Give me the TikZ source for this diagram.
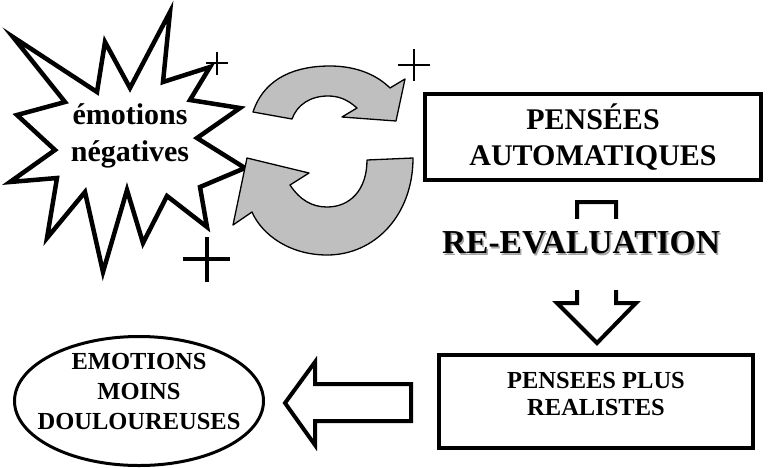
\documentclass[tikz,border=0pt]{standalone}
\usepackage{fontspec}
\setmainfont{Liberation Serif}
\usetikzlibrary{shapes.geometric}

\begin{document}
\begin{tikzpicture}[x=1pt,y=-1pt,
	box/.style={draw,line width=4pt,inner sep=0pt},
	bigtxt/.style={font=\bfseries\fontsize{30}{36}\selectfont,align=center},
	smalltxt/.style={font=\bfseries\fontsize{24.5}{30}\selectfont,align=center},
	revtxt/.style={font=\bfseries\fontsize{33.5}{36}\selectfont,anchor=base,inner sep=0pt},
	cyclearrow/.style={fill=gray!50,draw=black,line width=1.3pt,line join=round},
	hollowarrow/.style={draw=black,fill=white,line width=4pt,line join=miter},
	plussign/.style={draw=black,line cap=butt}]
				\useasboundingbox (0,0) rectangle (769,467);
				% star of negative emotions
				\draw[line width=4.5pt,fill=white,line join=miter,miter limit=20]
					(13,37) -- (97,92) -- (105,42) -- (130,88) -- (170,12) -- (163,82)
					-- (210,67) -- (190,100) -- (240,108) -- (197,138) -- (245,168)
					-- (200,187) -- (207,227) -- (167,196) -- (143,243) -- (127,190)
					-- (103,272) -- (85,192) -- (47,238) -- (57,178) -- (10,182)
					-- (55,150) -- (17,115) -- (65,102) -- cycle;
				\node[bigtxt,font=\bfseries\fontsize{30}{37}\selectfont] (emo) at (130,136) {émotions\\négatives};
				% plus signs
				\draw[plussign,line width=2pt] (206,63) -- (228,63) (217,52) -- (217,75);
				\draw[plussign,line width=2.5pt] (398,65) -- (430,65) (414,49) -- (414,81);
				\draw[plussign,line width=4pt] (183,259) -- (230,259) (207,237) -- (207,282);
				% turning arrows
				\draw[cyclearrow] (253,112) .. controls (265,76) and (298,66) .. (330,66)
					.. controls (358,66) and (378,76) .. (390,88) -- (405,79) -- (396,121)
					-- (342,117) -- (357,108) .. controls (347,99) and (338,96) .. (328,96)
					.. controls (310,96) and (297,105) .. (292,119) -- cycle;
				\draw[cyclearrow] (413,158) .. controls (413,215) and (375,255) .. (327,255)
					.. controls (290,255) and (262,235) .. (252,212) -- (233,225) -- (247,158)
					-- (309,173) -- (290,185) .. controls (300,200) and (312,207) .. (327,207)
					.. controls (350,207) and (367,190) .. (367,160) -- cycle;
				% boxes
				\node[box,bigtxt,minimum width=336,minimum height=86] (auto) at (593,137) {PENSÉES\\AUTOMATIQUES};
				\node[box,minimum width=314,minimum height=93] (real) at (596,401.5) {};
				\node[smalltxt,font=\bfseries\fontsize{24.5}{28}\selectfont] (realtxt) at (596,394) {PENSEES PLUS\\REALISTES};
				\node[ellipse,draw,line width=3pt,minimum width=249,minimum height=129,inner sep=0pt] (moins) at (139,401) {};
				\node[smalltxt] (moinstxt) at (139,392) {EMOTIONS\\MOINS\\DOULOUREUSES};
				% re-evaluation arrow
				\draw[hollowarrow] (577,202) -- (616,202) -- (616,303) -- (636,303) -- (597,343)
					-- (557,303) -- (577,303) -- cycle;
				\node[revtxt,text=gray!70,fill=white,text height=36.5pt,text depth=34.5pt] (revshadow) at (582.5,255) {RE-EVALUATION};
				\node[revtxt] (reeval) at (581,253.5) {RE-EVALUATION};
				% arrow to the ellipse
				\draw[hollowarrow] (411,384) -- (315,384) -- (315,362) -- (285,403) -- (315,445)
					-- (315,421) -- (411,421) -- cycle;
\end{tikzpicture}
\end{document}
